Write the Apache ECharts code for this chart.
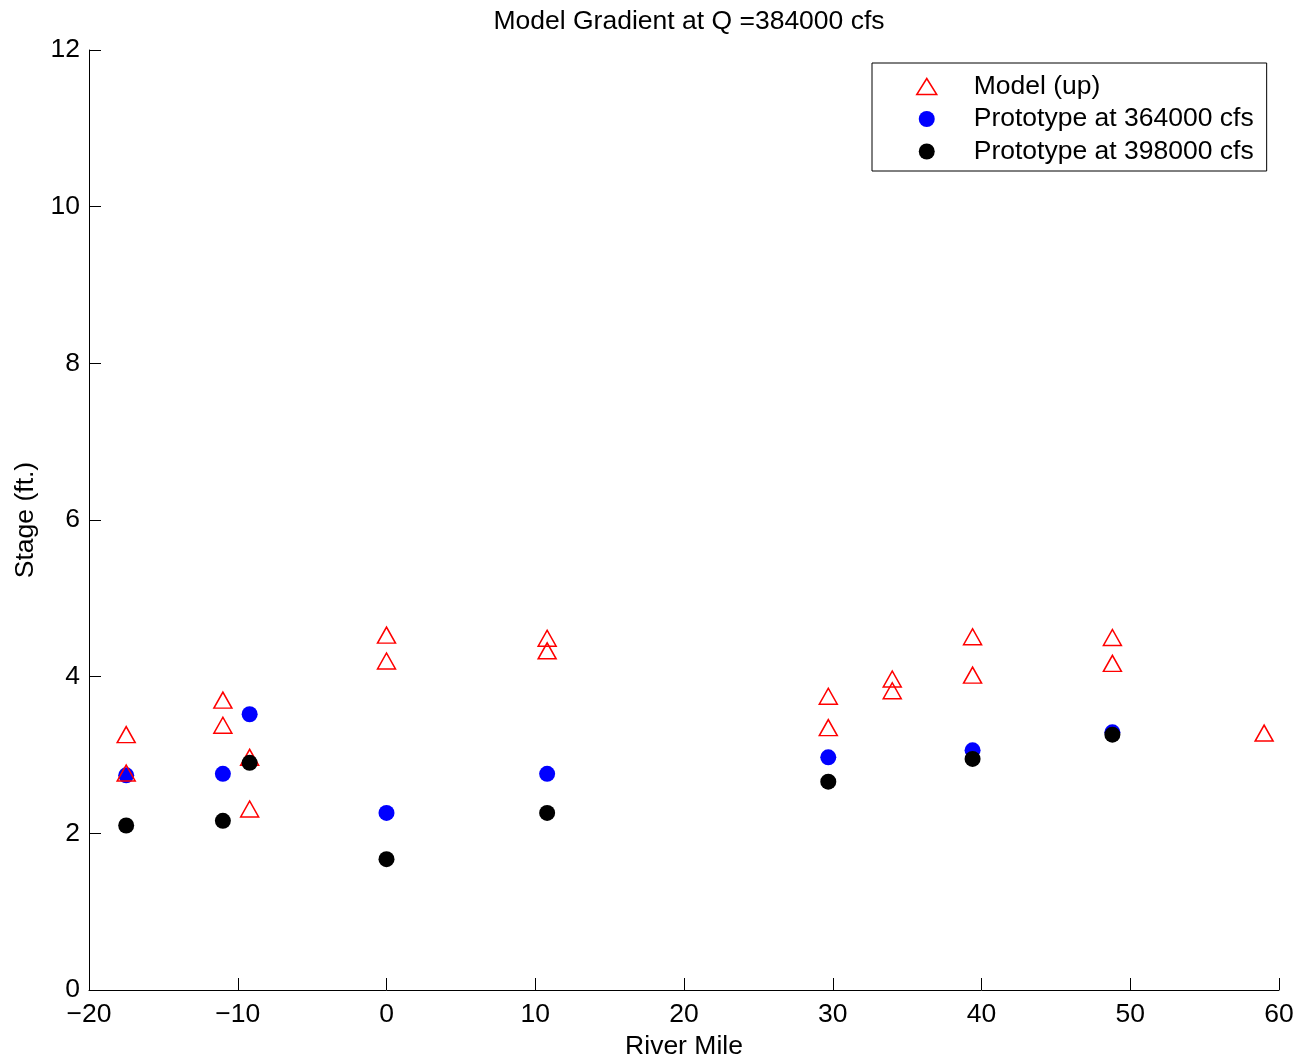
<!DOCTYPE html>
<html>
<head>
<meta charset="utf-8">
<script src="https://cdn.jsdelivr.net/npm/echarts@6/dist/echarts.min.js"></script>
<style>html,body{margin:0;padding:0;background:#fff}#c{width:1312px;height:1063px}</style>
</head>
<body>
<div id="c"></div>
<script>
var titleText = 'Model Gradient at Q =384000 cfs';
var seriesNames = ['Model (up)', 'Prototype at 364000 cfs', 'Prototype at 398000 cfs'];
var modelUp = [
  [-17.5, 3.26], [-17.5, 2.77],
  [-11.0, 3.70], [-11.0, 3.38],
  [-9.2, 2.97], [-9.2, 2.31],
  [0.0, 4.53], [0.0, 4.20],
  [10.8, 4.49], [10.8, 4.33],
  [29.7, 3.75], [29.7, 3.35],
  [34.0, 3.97], [34.0, 3.82],
  [39.4, 4.51], [39.4, 4.02],
  [48.8, 4.50], [48.8, 4.17],
  [59.0, 3.28]
];
var proto364 = [
  [-17.5, 2.74], [-11.0, 2.76], [-9.2, 3.52], [0.0, 2.26],
  [10.8, 2.76], [29.7, 2.97], [39.4, 3.06], [48.8, 3.29]
];
var proto398 = [
  [-17.5, 2.10], [-11.0, 2.16], [-9.2, 2.90], [0.0, 1.67],
  [10.8, 2.26], [29.7, 2.66], [39.4, 2.95], [48.8, 3.26]
];
var xTicks = { min: -20, max: 60, interval: 10 };
var yTicks = { min: 0, max: 12, interval: 2 };

var FONT = 'Liberation Sans, Arial, Helvetica, sans-serif';
var FS = 26.5;
function fmt(v) { return String(v).replace('-', '\u2212'); }

var chart = echarts.init(document.getElementById('c'));
chart.setOption({
  animation: false,
  backgroundColor: '#fff',
  textStyle: { fontFamily: FONT },
  title: {
    text: titleText,
    left: 684, top: 3, textAlign: 'center',
    textStyle: { fontFamily: FONT, fontSize: FS, fontWeight: 'normal', color: '#000' }
  },
  grid: { left: 89, right: 33, top: 50, bottom: 73, containLabel: false, outerBoundsMode: 'none' },
  legend: {
    orient: 'vertical',
    left: 872, top: 63,
    backgroundColor: '#fff',
    borderColor: '#000', borderWidth: 1,
    padding: [10, 13, 6, 44],
    itemWidth: 20, itemHeight: 16, itemGap: 5.5,
    textStyle: { fontFamily: FONT, fontSize: FS, color: '#000', lineHeight: 26, padding: [0, 0, 0, 32] },
    data: [
      { name: seriesNames[0], icon: 'triangle', itemStyle: { color: 'rgba(0,0,0,0)', borderColor: '#ff0000', borderWidth: 1.5 } },
      { name: seriesNames[1], icon: 'circle' },
      { name: seriesNames[2], icon: 'circle' }
    ]
  },
  xAxis: {
    type: 'value', min: xTicks.min, max: xTicks.max, interval: xTicks.interval,
    name: 'River Mile', nameLocation: 'middle', nameGap: 42,
    nameTextStyle: { fontFamily: FONT, fontSize: FS, color: '#000' },
    axisLine: { show: true, onZero: false, lineStyle: { color: '#000', width: 1 } },
    axisTick: { show: true, inside: true, length: 12, lineStyle: { color: '#000' } },
    axisLabel: { color: '#000', fontFamily: FONT, fontSize: FS, margin: 11, formatter: fmt },
    splitLine: { show: false }
  },
  yAxis: {
    type: 'value', min: yTicks.min, max: yTicks.max, interval: yTicks.interval,
    name: 'Stage (ft.)', nameLocation: 'middle', nameGap: 49, nameRotate: 90,
    nameTextStyle: { fontFamily: FONT, fontSize: FS, color: '#000' },
    axisLine: { show: true, onZero: false, lineStyle: { color: '#000', width: 1 } },
    axisTick: { show: true, inside: true, length: 12, lineStyle: { color: '#000' } },
    axisLabel: { color: '#000', fontFamily: FONT, fontSize: FS, margin: 9, formatter: fmt },
    splitLine: { show: false }
  },
  series: [
    {
      name: seriesNames[0], type: 'scatter', symbol: 'triangle', symbolSize: [18, 16],
      data: modelUp, z: 3,
      itemStyle: { color: 'rgba(0,0,0,0)', borderColor: '#ff0000', borderWidth: 1.5, opacity: 1 }
    },
    {
      name: seriesNames[1], type: 'scatter', symbol: 'circle', symbolSize: 16,
      data: proto364, z: 2,
      itemStyle: { color: '#0000ff', opacity: 1 }
    },
    {
      name: seriesNames[2], type: 'scatter', symbol: 'circle', symbolSize: 16,
      data: proto398, z: 4,
      itemStyle: { color: '#000000', opacity: 1 }
    }
  ]
});
</script>
</body>
</html>
